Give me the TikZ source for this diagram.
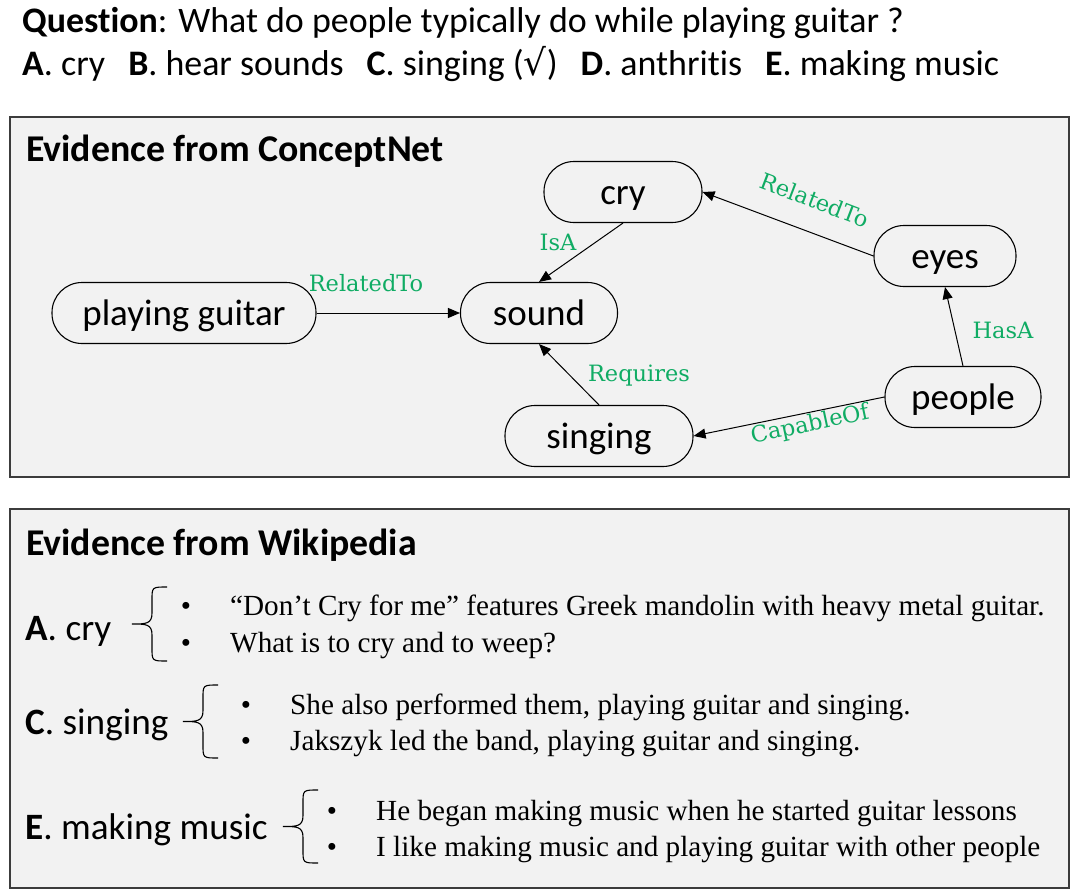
\documentclass[tikz,border=0pt]{standalone}
\usepackage{fontspec}
\setmainfont{Carlito}[Ligatures={NoCommon}]
\newfontfamily\tnr{Liberation Serif}
\newfontfamily\slab{DejaVu Serif}
\newfontfamily\dvs{DejaVu Sans}
\usetikzlibrary{arrows.meta}
\definecolor{lblgreen}{RGB}{16,172,100}
\definecolor{panelbg}{RGB}{242,242,242}
\definecolor{panelline}{RGB}{60,60,60}
\newcommand{\drawbrace}[4]{% #1 vertical x, #2 top y, #3 bottom y, #4 name
  \pgfmathsetmacro{\bmid}{(#2+#3)/2}
  \coordinate (#4) at (#1-20,\bmid);
  \draw[bracestyle] (#1+15,#2) .. controls (#1,#2) .. (#1,#2+13)
    -- (#1,\bmid-11) .. controls (#1,\bmid) and (#1-6,\bmid) .. (#4)
    .. controls (#1-6,\bmid) and (#1,\bmid) .. (#1,\bmid+11)
    -- (#1,#3-13) .. controls (#1,#3) .. (#1+15,#3);
}
\newcommand{\optgap}{\hspace{23pt}}
\begin{document}
\begin{tikzpicture}[x=1pt,y=-1pt,
  concept/.style={draw=black, line width=1.1pt, rounded corners=30pt, minimum height=61pt,
    inner sep=0pt, text height=31pt, text depth=6pt, font=\fontsize{37}{42}\selectfont},
  rel/.style={-{Triangle[length=12pt,width=10pt]}, line width=1pt},
  lbl/.style={text=lblgreen, font=\slab\fontsize{22.5}{26}\selectfont, inner sep=0pt},
  panel/.style={fill=panelbg, draw=panelline, line width=1.4pt},
  ttl/.style={anchor=base west, font=\bfseries\fontsize{37.8}{42}\selectfont, inner sep=0pt},
  qline/.style={anchor=base west, font=\fontsize{35.9}{40}\selectfont, inner sep=0pt},
  opt/.style={anchor=base west, font=\fontsize{37.2}{42}\selectfont, inner sep=0pt},
  evid/.style={anchor=base west, font=\tnr\fontsize{29.2}{33}\selectfont, inner sep=0pt},
  bul/.style={anchor=base, font=\tnr\fontsize{29}{33}\selectfont, inner sep=0pt},
  bracestyle/.style={draw=black, line width=1.1pt}
]
\useasboundingbox (0,0) rectangle (1080,894);
\fill[white] (0,0) rectangle (1080,894);

% question
\node[qline] (q1) at (22,32) {\textbf{Quest\kern0pt ion}: What do people typically do while playing guitar ?};
\node[qline] (q2) at (22,75) {\textbf{A}. cry\optgap\textbf{B}. hear sounds\optgap\textbf{C}. singing ({\dvs √})\optgap\textbf{D}. anthrit\kern0pt is\optgap\textbf{E}. making music};

% panel 1
\draw[panel] (10,117) rectangle (1069,477);
\node[ttl] (t1) at (26,161) {Evidence from ConceptNet};

\node[concept, minimum width=158pt] (cry) at (623,192) {cry};
\node[concept, minimum width=142pt] (eyes) at (945,256) {eyes};
\node[concept, minimum width=264pt] (pg) at (184,313) {playing guitar};
\node[concept, minimum width=157pt] (sound) at (539,313) {sound};
\node[concept, minimum width=156pt] (people) at (963,397) {people};
\node[concept, minimum width=188pt] (singing) at (599,436) {singing};

\draw[rel] (pg.east) -- (sound.west);
\draw[rel] (cry.south) -- (sound.north);
\draw[rel] (eyes.west) -- (cry.east);
\draw[rel] (people.north) -- (eyes.south);
\draw[rel] (people.west) -- (singing.east);
\draw[rel] (singing.north) -- (sound.south);

\node[lbl] (l1) at (366,283) {RelatedTo};
\node[lbl] (l2) at (558,242) {IsA};
\node[lbl, rotate=-21] (l3) at (815,200) {RelatedTo};
\node[lbl] (l4) at (1003,330) {HasA};
\node[lbl, rotate=12] (l5) at (810,425) {CapableOf};
\node[lbl] (l6) at (639,376) {Requires};

% panel 2
\draw[panel] (10,509) rectangle (1069,888);
\node[ttl] (t2) at (26,555) {Evidence from Wikipedia};

\node[opt] (oa) at (25,640) {\textbf{A}. cry};
\drawbrace{152}{587}{661}{ba}
\node[bul] (ba1) at (186,615) {•};
\node[bul] (ba2) at (186,652) {•};
\node[evid] (ea1) at (230,615) {“Don’t Cry for me” features Greek mandolin with heavy metal guitar.};
\node[evid] (ea2) at (230,652) {What is to cry and to weep?};

\node[opt] (oc) at (25,734) {\textbf{C}. singing};
\drawbrace{203}{685}{758}{bc}
\node[bul] (bc1) at (246,714) {•};
\node[bul] (bc2) at (246,750) {•};
\node[evid] (ec1) at (290,714) {She also performed them, playing guitar and singing.};
\node[evid] (ec2) at (290,750) {Jakszyk led the band, playing guitar and singing.};

\node[opt] (oe) at (25,839) {\textbf{E}. making music};
\drawbrace{303}{790}{863}{be}
\node[bul] (be1) at (332,820) {•};
\node[bul] (be2) at (332,856) {•};
\node[evid] (ee1) at (376,820) {He began making music when he started guitar lessons};
\node[evid] (ee2) at (376,856) {I like making music and playing guitar with other people};
\end{tikzpicture}
\end{document}
